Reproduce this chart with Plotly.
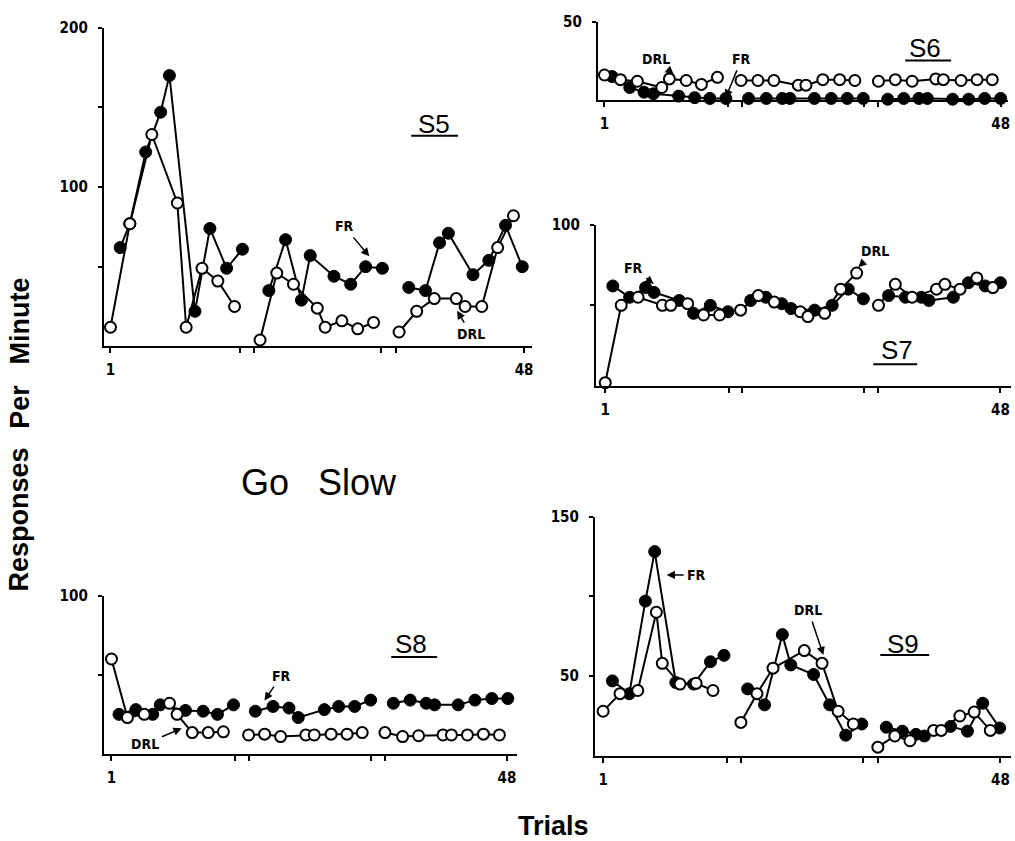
import plotly.graph_objects as go

W, H = 1015, 841

# ---- Responses per minute, FR (filled) and DRL (open) trials; None breaks the blocks ----
s5_fr_trial = [2.1, 3.2, 5.0, 6.7, 7.7, 10.6, 12.3, 14.2, 16.0, None,
               19.0, 20.9, 22.7, 23.7, 26.4, 28.3, 30.0, 31.9, None,
               34.9, 36.8, 38.4, 39.4, 42.2, 44.0, 45.9, 47.8]
s5_fr_rate = [62, 77, 122, 147, 170, 22, 74, 49, 61, None,
              35, 67, 29, 57, 44, 39, 50, 49, None,
              37, 35, 65, 71, 45, 54, 76, 50]
s5_drl_trial = [1.0, 3.2, 5.7, 8.6, 9.6, 11.4, 13.2, 15.1, None,
                18.0, 19.9, 21.8, 24.5, 25.4, 27.3, 29.1, 30.9, None,
                33.8, 35.8, 37.8, 40.3, 41.3, 43.2, 45.0, 46.8]
s5_drl_rate = [12, 77, 133, 90, 12, 49, 41, 25, None,
               4, 46, 39, 24, 12, 16, 11, 15, None,
               9, 22, 30, 30, 25, 25, 62, 82]

s6_fr_trial = [1.9, 4.0, 5.7, 6.8, 9.8, 11.7, 13.5, 15.4, None,
               18.1, 20.2, 22.1, 23.0, 25.9, 27.9, 29.8, 31.7, None,
               34.6, 36.5, 38.3, 39.3, 42.3, 44.2, 46.1, 48.0]
s6_fr_rate = [15, 8, 5, 4, 2.5, 1.5, 1, 1, None,
              1, 1, 1, 1, 1, 1, 1, 1, None,
              0.5, 1, 1, 1, 0.5, 0.5, 1, 1]
s6_drl_trial = [1.0, 2.9, 4.9, 7.8, 8.7, 10.7, 12.5, 14.4, None,
                17.2, 19.2, 21.1, 24.0, 24.9, 26.9, 28.9, 30.7, None,
                33.5, 35.5, 37.5, 40.3, 41.2, 43.3, 45.2, 47.0]
s6_drl_rate = [16, 13, 12, 8, 13.5, 12.5, 10, 14.5, None,
               12.5, 12.5, 12.5, 9.5, 9.5, 13, 13, 12.5, None,
               12, 13, 12, 13.5, 13, 12.5, 13, 13]

s7_fr_trial = [1.9, 3.9, 5.8, 6.8, 9.8, 11.5, 13.5, 15.6, None,
               18.3, 20.1, 22.0, 23.1, 25.9, 28.0, 29.9, 31.7, None,
               34.7, 36.7, 38.6, 39.5, 42.4, 44.2, 46.2, 48.0]
s7_fr_rate = [62, 55, 61, 58, 53, 45, 50, 46, None,
              53, 55, 51, 48, 47, 50, 60, 54, None,
              56, 55, 55, 53, 55, 64, 62, 64]
s7_drl_trial = [1.0, 2.9, 4.9, 7.8, 8.8, 10.8, 12.7, 14.6, None,
                17.1, 19.2, 21.1, 24.2, 25.1, 27.1, 29.0, 30.9, None,
                33.5, 35.5, 37.5, 40.4, 41.4, 43.2, 45.2, 47.1]
s7_drl_rate = [2, 50, 55, 50, 50, 51, 44, 44, None,
               47, 56, 52, 46, 43, 45, 60, 70, None,
               50, 63, 55, 60, 63, 60, 67, 61]

s8_fr_trial = [1.9, 3.9, 5.9, 6.8, 9.8, 11.9, 13.6, 15.5, None,
               18.1, 20.2, 22.1, 23.2, 26.3, 28.0, 29.9, 31.8, None,
               34.5, 36.5, 38.4, 39.4, 42.2, 44.2, 46.2, 48.1]
s8_fr_rate = [25, 28, 25, 31, 27.5, 27, 25, 31, None,
              27, 30, 29, 23, 28, 30, 30, 34, None,
              32, 34, 32, 31, 31, 34, 35, 35]
s8_drl_trial = [1.0, 2.9, 4.9, 7.9, 8.8, 10.6, 12.5, 14.3, None,
                17.3, 19.2, 21.1, 24.1, 25.1, 27.1, 29.0, 30.8, None,
                33.5, 35.6, 37.5, 40.4, 41.4, 43.3, 45.2, 47.1]
s8_drl_rate = [60, 23, 25, 32, 25, 13.5, 13.5, 14, None,
               12, 12.5, 11, 12, 12, 12.5, 12.5, 13.5, None,
               13.5, 11, 11.5, 12, 12, 12, 12.5, 12]

s9_fr_trial = [2.1, 4.1, 6.0, 7.1, 9.6, 11.7, 13.7, 15.3, None,
               18.1, 20.1, 22.2, 23.2, 25.9, 27.8, 29.7, 31.6, None,
               34.5, 36.4, 38.0, 39.0, 42.1, 44.1, 45.9, 47.9]
s9_fr_rate = [47, 39, 97, 128, 46, 45, 59, 63, None,
              42, 32, 76, 57, 51, 32, 13, 20, None,
              18, 15.5, 13.5, 12.5, 18.5, 15.5, 33, 17.5]
s9_drl_trial = [1.0, 3.0, 5.1, 7.3, 8.0, 10.1, 12.0, 14.0, None,
                17.3, 19.2, 21.1, 24.8, 26.9, 28.8, 30.6, None,
                33.5, 35.5, 37.3, 40.1, 41.0, 43.2, 44.9, 46.8]
s9_drl_rate = [28, 39, 41, 90, 58, 45, 45.5, 41, None,
               21, 39, 55, 66, 58, 28, 20, None,
               5.5, 12.5, 9.5, 16, 16, 25, 27.5, 16]

x_tick_vals = [1, 15.7, 17.3, 31.8, 33.5, 48]
x_tick_text = ["1", "", "", "", "", "48"]

# ---- panel placement (pixel box of each axis frame) ----
panels = [
    # name, left, right, top, bottom, x range, y max, y ticks, y labels, data
    ("S5", 104, 533, 19, 341, [0.24, 48.9], 200, [50, 100, 150, 200], ["", "100", "", "200"],
     s5_fr_trial, s5_fr_rate, s5_drl_trial, s5_drl_rate),
    ("S6", 599, 1010, 13, 92, [0.21, 48.87], 50, [50], ["50"],
     s6_fr_trial, s6_fr_rate, s6_drl_trial, s6_drl_rate),
    ("S7", 597, 1013, 218, 381, [-0.12, 49.26], 100, [50, 100], ["", "100"],
     s7_fr_trial, s7_fr_rate, s7_drl_trial, s7_drl_rate),
    ("S8", 104, 518, 593, 753, [0.09, 49.19], 100, [50, 100], ["", "100"],
     s8_fr_trial, s8_fr_rate, s8_drl_trial, s8_drl_rate),
    ("S9", 596, 1013, 513, 755, [0.02, 49.25], 150, [50, 100, 150], ["50", "", "150"],
     s9_fr_trial, s9_fr_rate, s9_drl_trial, s9_drl_rate),
]


def px(x):
    return x / W


def py(y):
    return 1 - y / H


tick_font = dict(family="DejaVu Sans Condensed, Liberation Sans Narrow, Arial Narrow",
                 size=15, color="black", weight="bold")
small_font = dict(family="DejaVu Sans Condensed, Liberation Sans Narrow, Arial Narrow",
                  size=14, color="black", weight="bold")

fig = go.Figure()
layout = dict(width=W, height=H, margin=dict(l=0, r=0, t=0, b=0),
              paper_bgcolor="white", plot_bgcolor="rgba(0,0,0,0)",
              showlegend=False, annotations=[], shapes=[])

for i, (name, left, right, top, bottom, xr, ymax, yt, yl,
        fr_t, fr_r, drl_t, drl_r) in enumerate(panels):
    sfx = "" if i == 0 else str(i + 1)
    xa, ya = "x" + sfx, "y" + sfx
    layout["xaxis" + sfx] = dict(
        domain=[px(left), px(right)], range=xr, anchor=ya,
        showline=True, linecolor="black", linewidth=2,
        ticks="outside", ticklen=5, tickwidth=1.5, tickcolor="black",
        tickvals=x_tick_vals, ticktext=x_tick_text, tickfont=tick_font,
        ticklabelstandoff=4, showgrid=False, zeroline=False, fixedrange=True)
    layout["yaxis" + sfx] = dict(
        domain=[py(bottom), py(top)], range=[0, ymax], anchor=xa,
        showline=True, linecolor="black", linewidth=2,
        ticks="outside", ticklen=4, tickwidth=1.5, tickcolor="black",
        tickvals=yt, ticktext=yl, tickfont=tick_font, ticklabelstandoff=7,
        showgrid=False, zeroline=False, fixedrange=True)
    fig.add_trace(go.Scatter(
        x=fr_t, y=fr_r, xaxis=xa, yaxis=ya, mode="lines+markers",
        line=dict(color="black", width=2), connectgaps=False,
        marker=dict(symbol="circle", size=12, color="black",
                    line=dict(color="black", width=1)),
        cliponaxis=False, name="FR"))
    fig.add_trace(go.Scatter(
        x=drl_t, y=drl_r, xaxis=xa, yaxis=ya, mode="lines+markers",
        line=dict(color="black", width=2), connectgaps=False,
        marker=dict(symbol="circle", size=11, color="white",
                    line=dict(color="black", width=2)),
        cliponaxis=False, name="DRL"))

# ---- subject labels with underline ----
subject_labels = [("S5", 435, 116, 412, 459, 128),
                  ("S6", 927, 39, 907, 953, 52),
                  ("S7", 899, 345, 875, 919, 359),
                  ("S8", 412, 642, 392, 438, 655),
                  ("S9", 905, 642, 882, 931, 653)]
for txt, cx, cy, ul0, ul1, uy in subject_labels:
    layout["annotations"].append(dict(
        text=txt, x=px(cx), y=py(cy), xref="paper", yref="paper",
        showarrow=False, xanchor="center", yanchor="middle",
        font=dict(family="Liberation Sans, Arial", size=26, color="black")))
    layout["shapes"].append(dict(
        type="line", xref="paper", yref="paper",
        x0=px(ul0), x1=px(ul1), y0=py(uy), y1=py(uy),
        line=dict(color="black", width=2)))

# ---- FR / DRL callouts with arrows: (text, text x, text y, tip x, tip y) ----
callouts = [("FR", 345, 220, 370, 250), ("DRL", 472, 328, 458, 305),
            ("DRL", 657, 51, 675, 66), ("FR", 743, 51, 727, 90),
            ("FR", 635, 262, 655, 278), ("DRL", 877, 245, 860, 261),
            ("FR", 282, 674, 265, 699), ("DRL", 145, 743, 182, 727),
            ("FR", 698, 572, 668, 572), ("DRL", 810, 608, 825, 653)]
for txt, tx, ty, hx, hy in callouts:
    layout["annotations"].append(dict(
        text=txt, x=px(hx), y=py(hy), xref="paper", yref="paper",
        ax=tx - hx, ay=ty - hy, axref="pixel", ayref="pixel",
        xanchor="center", yanchor="middle",
        showarrow=True, arrowhead=2, arrowsize=1.1, arrowwidth=1.5,
        arrowcolor="black", standoff=0, startstandoff=2, font=small_font))

# ---- figure-level titles ----
big = dict(family="Liberation Sans, Arial", color="black")
layout["annotations"] += [
    dict(text="Go", x=px(266), y=py(479), xref="paper", yref="paper",
         showarrow=False, xanchor="center", yanchor="middle",
         font=dict(size=36, **big)),
    dict(text="Slow", x=px(358), y=py(479), xref="paper", yref="paper",
         showarrow=False, xanchor="center", yanchor="middle",
         font=dict(size=36, **big)),
    dict(text="Trials", x=px(555), y=py(826), xref="paper", yref="paper",
         showarrow=False, xanchor="center", yanchor="middle",
         font=dict(size=27, weight="bold", **big)),
]
for word, cy in [("Responses", 516), ("Per", 402), ("Minute", 315)]:
    layout["annotations"].append(dict(
        text=word, x=px(20), y=py(cy), xref="paper", yref="paper",
        showarrow=False, textangle=-90, xanchor="center", yanchor="middle",
        font=dict(size=27, weight="bold", **big)))

fig.update_layout(**layout)
fig.write_html("out.html")
